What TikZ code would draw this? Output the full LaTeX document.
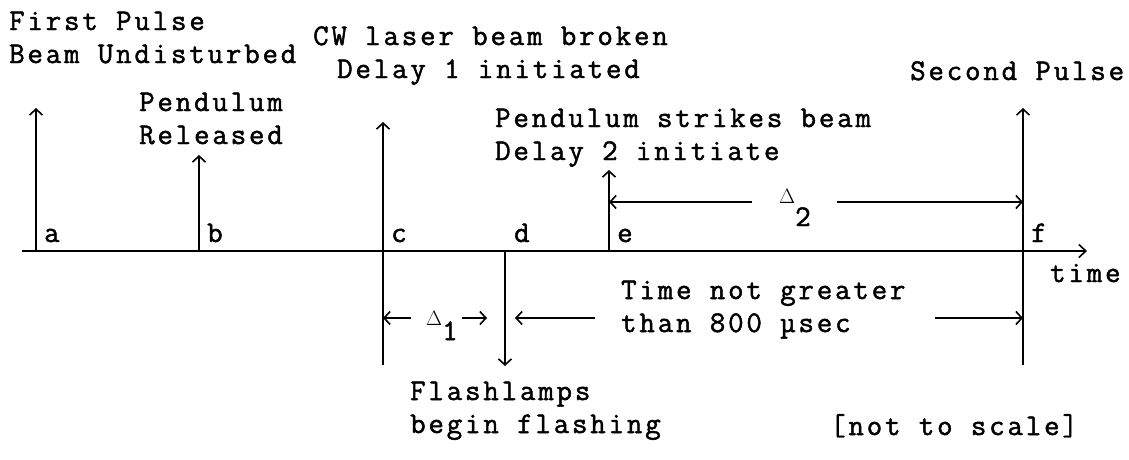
\documentclass[tikz,border=0pt]{standalone}
\usepackage{fontspec}
\newfontfamily\tw{Latin Modern Mono}[LetterSpace=9.5, FakeBold=1.6]
\usetikzlibrary{arrows.meta}

\begin{document}
\begin{tikzpicture}[x=1pt, y=-1pt,
    every node/.style={inner sep=0pt, font=\tw\fontsize{30}{33}\selectfont},
    txt/.style={anchor=base west, align=left},
    axis/.style={line width=2.4pt, -{Straight Barb[length=7pt, width=13pt, line width=1.6pt]}},
    event/.style={line width=1.6pt, -{Straight Barb[length=6pt, width=13pt]}},
    bar/.style={line width=1.6pt},
    span/.style={line width=1.6pt, -{Straight Barb[length=6pt, width=13pt]}}]
    \useasboundingbox (0,0) rectangle (1129,459);

    % time axis
    \coordinate (o) at (22,251);
    \coordinate (tend) at (1087,251);
    \draw[axis] (o) -- (tend);
    \node[txt] (time) at (1050,282) {time};

    % events a..f
    \foreach \n/\x/\top in {a/36/108, b/199/155, c/383/122, e/609/170, f/1023/108} {
        \coordinate (\n0) at (\x,251);
        \coordinate (\n1) at (\x,\top);
        \draw[event] (\n0) -- (\n1);
        \node[txt] (lab\n) at (\x+8,242) {\n};
    }
    \coordinate (d0) at (505,251);
    \coordinate (d1) at (505,366);
    \draw[event] (d0) -- (d1);
    \node[txt] (labd) at (514,242) {d};

    % c and f go on below the axis
    \coordinate (c2) at (383,365);
    \coordinate (f2) at (1023,365);
    \draw[bar] (c0) -- (c2);
    \draw[bar] (f0) -- (f2);

    % texts above (base = last line)
    \node[txt] (first) at (9,63) {First Pulse\\Beam Undisturbed};
    \node[txt] (cw) at (313,78) {CW laser beam broken\\\hspace*{24pt}Delay 1 initiated};
    \node[txt] (pend) at (139,144) {Pendulum\\Released};
    \node[txt] (strike) at (495,160) {Pendulum strikes beam\\Delay 2 initiate};
    \node[txt] (second) at (910,80) {Second Pulse};

    % Delta 2
    \node[txt] (dtwo) at (779,203) {$\scriptstyle\Delta$\raisebox{-23pt}{2}};
    \coordinate (dtl) at (752,202);
    \coordinate (dtr) at (837,202);
    \draw[span] (dtl) -- (e0 |- dtl);
    \draw[span] (dtr) -- (f0 |- dtr);

    % Delta 1
    \node[txt] (done) at (426,325) {$\scriptstyle\Delta$\raisebox{-15pt}{1}};
    \coordinate (d1l) at (411,318);
    \coordinate (d1r) at (462,318);
    \draw[span] (d1l) -- (c0 |- d1l);
    \draw[span] (d1r) -- (487,318);

    % time not greater than 800
    \node[txt] (limit) at (621,332) {Time not greater\\than 800 µsec};
    \coordinate (ll) at (595,318);
    \coordinate (lr) at (935,318);
    \draw[span] (ll) -- (515,318);
    \draw[span] (lr) -- (f0 |- lr);

    % texts below
    \node[txt] (flash) at (410,433) {Flashlamps\\begin flashing};
    \node[txt] (scale) at (830,435) {[not to scale]};
\end{tikzpicture}
\end{document}
